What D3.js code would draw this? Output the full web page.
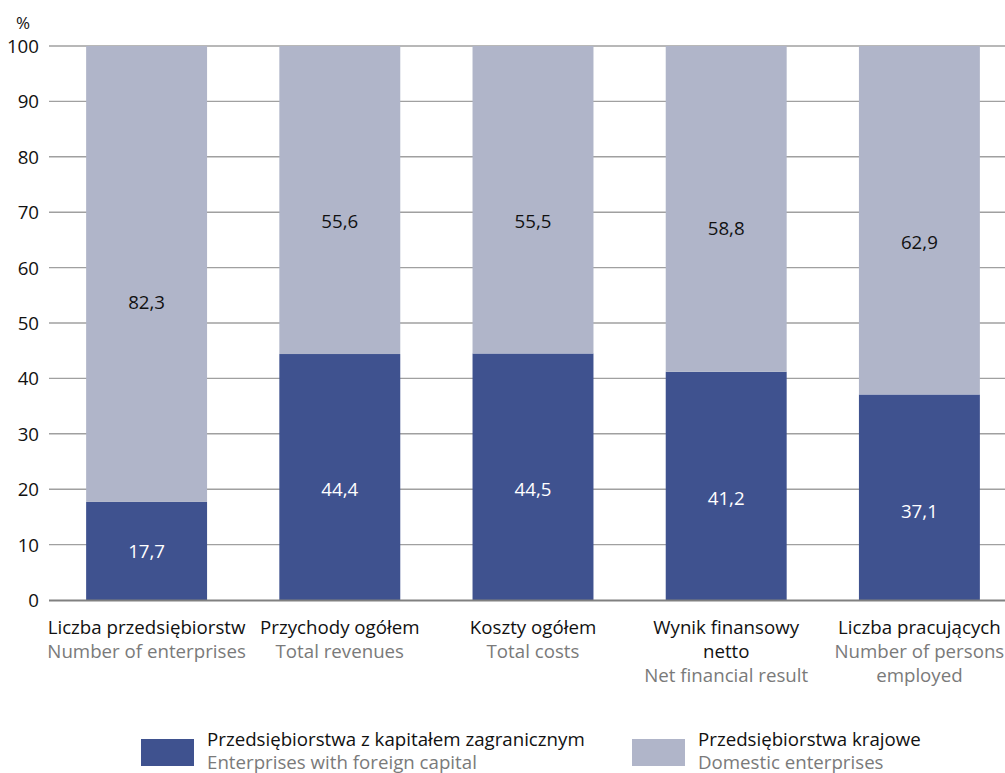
<!DOCTYPE html>
<html>
<head>
<meta charset="utf-8">
<script src="https://cdn.jsdelivr.net/npm/d3@7"></script>
<style>
  html, body { margin: 0; padding: 0; background: #fff; }
  svg { display: block; font-family: "Open Sans", "Noto Sans", sans-serif; }
</style>
</head>
<body>
<svg id="chart" width="1005" height="773"></svg>
<script>
// Category labels (Polish / English lines)
const categoriesPl = [
  ["Liczba przedsiębiorstw"],
  ["Przychody ogółem"],
  ["Koszty ogółem"],
  ["Wynik finansowy", "netto"],
  ["Liczba pracujących"]
];
const categoriesEn = [
  ["Number of enterprises"],
  ["Total revenues"],
  ["Total costs"],
  ["Net financial result"],
  ["Number of persons", "employed"]
];
// Shares in %
const foreignValues = [17.7, 44.4, 44.5, 41.2, 37.1];
const domesticValues = [82.3, 55.6, 55.5, 58.8, 62.9];
// Where each value label sits, in % units
const foreignLabelAt = [8.7, 20.0, 20.0, 18.4, 15.9];
const domesticLabelAt = [53.7, 68.4, 68.4, 67.0, 64.5];
const yTicks = [0, 10, 20, 30, 40, 50, 60, 70, 80, 90, 100];
const seriesPl = ["Przedsiębiorstwa z kapitałem zagranicznym", "Przedsiębiorstwa krajowe"];
const seriesEn = ["Enterprises with foreign capital", "Domestic enterprises"];

const colors = ["#3f528f", "#b0b5c9"];
const fs = 18.7;
const fmt = v => d3.format(".1f")(v).replace(".", ",");

const svg = d3.select("#chart");
const idx = d3.range(categoriesPl.length);

const x = d3.scaleBand().domain(idx).range([50, 1016]).paddingInner(0.374).paddingOuter(0.187);
const y = d3.scaleLinear().domain([0, 100]).range([600, 46]);

// Tick labels
const yAxis = d3.axisLeft(y).tickValues(yTicks).tickSize(0).tickPadding(0);
const gAxis = svg.append("g").attr("transform", "translate(39,0)").call(yAxis);
gAxis.select(".domain").remove();
gAxis.selectAll("text").attr("font-size", fs).attr("fill", "#111")
  .attr("font-family", "Open Sans, sans-serif").attr("dy", "0.35em");

// Gridlines
svg.append("g").selectAll("line").data(yTicks.filter(t => t > 0)).join("line")
  .attr("x1", 49).attr("x2", 1005)
  .attr("y1", d => y(d)).attr("y2", d => y(d))
  .attr("stroke", "#a0a0a0").attr("stroke-width", 1.4);

svg.append("text").attr("x", 23).attr("y", 29).attr("text-anchor", "middle")
  .attr("font-size", 17).attr("fill", "#111").text("%");

// Stacked bars
const bars = svg.append("g");
bars.selectAll("rect.foreign").data(idx).join("rect").attr("class", "foreign")
  .attr("x", i => x(i)).attr("width", x.bandwidth())
  .attr("y", i => y(foreignValues[i])).attr("height", i => y(0) - y(foreignValues[i]))
  .attr("fill", colors[0]);
bars.selectAll("rect.domestic").data(idx).join("rect").attr("class", "domestic")
  .attr("x", i => x(i)).attr("width", x.bandwidth())
  .attr("y", i => y(foreignValues[i] + domesticValues[i]))
  .attr("height", i => y(foreignValues[i]) - y(foreignValues[i] + domesticValues[i]))
  .attr("fill", colors[1]);

// Baseline
svg.append("line").attr("x1", 49).attr("x2", 1005).attr("y1", y(0) + 0.5).attr("y2", y(0) + 0.5)
  .attr("stroke", "#808080").attr("stroke-width", 2);

// Value labels
const labels = svg.append("g").attr("text-anchor", "middle").attr("font-size", fs);
labels.selectAll("text.f").data(idx).join("text").attr("class", "f")
  .attr("x", i => x(i) + x.bandwidth() / 2).attr("y", i => y(foreignLabelAt[i]))
  .attr("dy", "0.35em").attr("fill", "#fff").text(i => fmt(foreignValues[i]));
labels.selectAll("text.d").data(idx).join("text").attr("class", "d")
  .attr("x", i => x(i) + x.bandwidth() / 2).attr("y", i => y(domesticLabelAt[i]))
  .attr("dy", "0.35em").attr("fill", "#111").text(i => fmt(domesticValues[i]));

// Category labels
const lineH = 23.8;
const cat = svg.append("g").attr("text-anchor", "middle").attr("font-size", fs);
idx.forEach(i => {
  const cx = x(i) + x.bandwidth() / 2;
  const lines = categoriesPl[i].map(t => ({ t, c: "#111" }))
    .concat(categoriesEn[i].map(t => ({ t, c: "#7a7a7a" })));
  lines.forEach((l, k) => {
    cat.append("text").attr("x", cx).attr("y", 634 + k * lineH)
      .attr("fill", l.c).text(l.t);
  });
});

// Legend
const legendX = [141, 632];
const legend = svg.append("g").attr("font-size", fs);
legendX.forEach((lx, k) => {
  legend.append("rect").attr("x", lx).attr("y", 739).attr("width", 53).attr("height", 27)
    .attr("fill", colors[k]);
  legend.append("text").attr("x", lx + 66).attr("y", 746).attr("fill", "#111").text(seriesPl[k]);
  legend.append("text").attr("x", lx + 66).attr("y", 769).attr("fill", "#7a7a7a").text(seriesEn[k]);
});
</script>
</body>
</html>
